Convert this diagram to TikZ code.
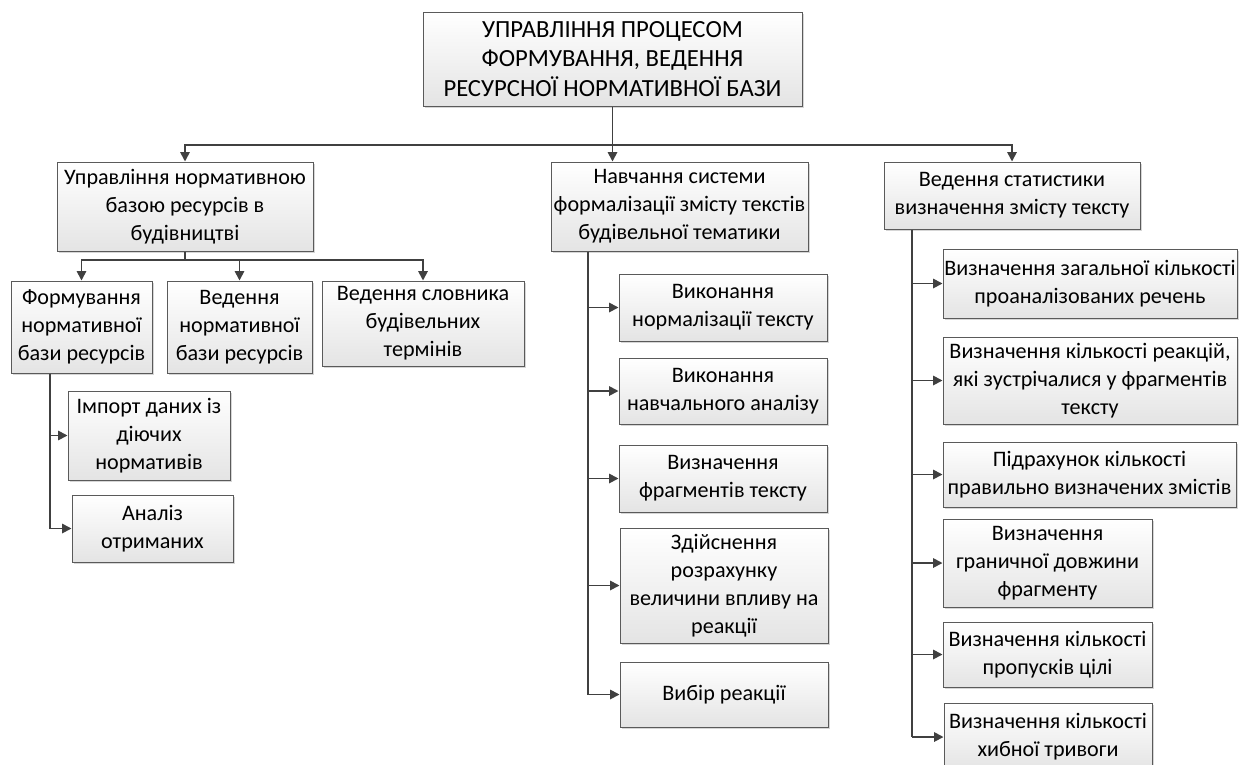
\documentclass[tikz,border=0pt]{standalone}
\usepackage{fontspec}
\setmainfont{Carlito}
\usetikzlibrary{arrows.meta,shadows}
\definecolor{wire}{HTML}{404040}
\definecolor{frame}{HTML}{5A5A5A}
\definecolor{boxbot}{HTML}{E4E4E4}
\definecolor{shade}{HTML}{C4C4C4}
\tikzset{
  blk/.style={draw=frame, line width=0.75pt, top color=white, bottom color=boxbot,
    align=center, inner sep=0pt, font=\fontsize{16.6}{21}\selectfont,
    drop shadow={shadow xshift=1.6pt, shadow yshift=-1.6pt, fill=shade, opacity=0.7}},
  sz/.style 2 args={minimum width=#1*0.75pt, minimum height=#2*0.75pt},
  link/.style={draw=wire, line width=1.3pt},
  arr/.style={link, -{Triangle[length=7pt,width=7pt]}},
}

\begin{document}
\begin{tikzpicture}[x=0.75pt,y=-0.75pt]
  \useasboundingbox (0,0) rectangle (1251,764);
  % top
  \node[blk,sz={379}{94},font=\fontsize{18.5}{22}\selectfont] (root) at (612.5,59)
    {УПРАВЛІННЯ ПРОЦЕСОМ\\ФОРМУВАННЯ, ВЕДЕННЯ\\РЕСУРСНОЇ НОРМАТИВНОЇ БАЗИ};
  % first level
  \node[blk,sz={256}{89}] (norm) at (185,206.5)
    {Управління нормативною\\базою ресурсів в\\будівництві};
  \node[blk,sz={257}{89}] (learn) at (679.5,206.5)
    {Навчання системи\\формалізації змісту текстів\\будівельної тематики};
  \node[blk,sz={256}{67}] (stat) at (1012,195.5)
    {Ведення статистики\\визначення змісту тексту};
  \coordinate (bus) at (612.5,145);
  \draw[arr] (root.south) -- (root.south |- learn.north);
  \draw[arr] (bus) -| (norm.north);
  \draw[arr] (bus) -| (stat.north);

  % normative base
  \node[blk,sz={141}{92}] (form) at (81.5,327) {Формування\\нормативної\\бази ресурсів};
  \node[blk,sz={145}{92}] (keep) at (239.5,327) {Ведення\\нормативної\\бази ресурсів};
  \node[blk,sz={202}{85}] (dict) at (423,323.5) {Ведення словника\\будівельних\\термінів};
  \node[blk,sz={162}{89}] (imp) at (149,435.5) {Імпорт даних із\\діючих\\нормативів};
  \node[blk,sz={161}{67}] (anal) at (152.5,528.5) {Аналіз\\отриманих};
  \coordinate (nbus) at (185,260);
  \coordinate (fl) at (50,0);
  \draw[link] (norm.south) -- (nbus);
  \draw[arr] (nbus) -| (form.north);
  \draw[arr] (nbus) -| (keep.north);
  \draw[arr] (nbus) -| (dict.north);
  \draw[link] (form.south -| fl) -- (fl |- anal);
  \draw[arr] (fl |- imp) -- (imp);
  \draw[arr] (fl |- anal) -- (anal);

  % learning
  \node[blk,sz={208}{67}] (mnorm) at (723,307.5) {Виконання\\нормалізації тексту};
  \node[blk,sz={208}{66}] (mtrain) at (723,391) {Виконання\\навчального аналізу};
  \node[blk,sz={208}{67}] (mfrag) at (723,478.5) {Визначення\\фрагментів тексту};
  \node[blk,sz={208}{115}] (mcalc) at (724,585.5) {Здійснення\\розрахунку\\величини впливу на\\реакції};
  \node[blk,sz={208}{65}] (mpick) at (724,694.5) {Вибір реакції};
  \coordinate (ml) at (588,0);
  \draw[link] (learn.south -| ml) -- (ml |- mpick);
  \draw[arr] (ml |- mnorm) -- (mnorm);
  \draw[arr] (ml |- mtrain) -- (mtrain);
  \draw[arr] (ml |- mfrag) -- (mfrag);
  \draw[arr] (ml |- mcalc) -- (mcalc);
  \draw[arr] (ml |- mpick) -- (mpick);

  % statistics
  \node[blk,sz={294}{69}] (stot) at (1090,283.5) {Визначення загальної кількості\\проаналізованих речень};
  \node[blk,sz={294}{87}] (sreac) at (1090,380.5) {Визначення кількості реакцій,\\які зустрічалися у фрагментів\\тексту};
  \node[blk,sz={293}{65}] (sok) at (1089.5,474.5) {Підрахунок кількості\\правильно визначених змістів};
  \node[blk,sz={209}{88}] (slen) at (1047.5,563) {Визначення\\граничної довжини\\фрагменту};
  \node[blk,sz={209}{65}] (smiss) at (1047.5,654.5) {Визначення кількості\\пропусків цілі};
  \node[blk,sz={208}{68}] (sfalse) at (1048,737) {Визначення кількості\\хибної тривоги};
  \coordinate (sl) at (912,0);
  \draw[link] (stat.south -| sl) -- (sl |- sfalse);
  \draw[arr] (sl |- stot) -- (stot);
  \draw[arr] (sl |- sreac) -- (sreac);
  \draw[arr] (sl |- sok) -- (sok);
  \draw[arr] (sl |- slen) -- (slen);
  \draw[arr] (sl |- smiss) -- (smiss);
  \draw[arr] (sl |- sfalse) -- (sfalse);
\end{tikzpicture}
\end{document}
